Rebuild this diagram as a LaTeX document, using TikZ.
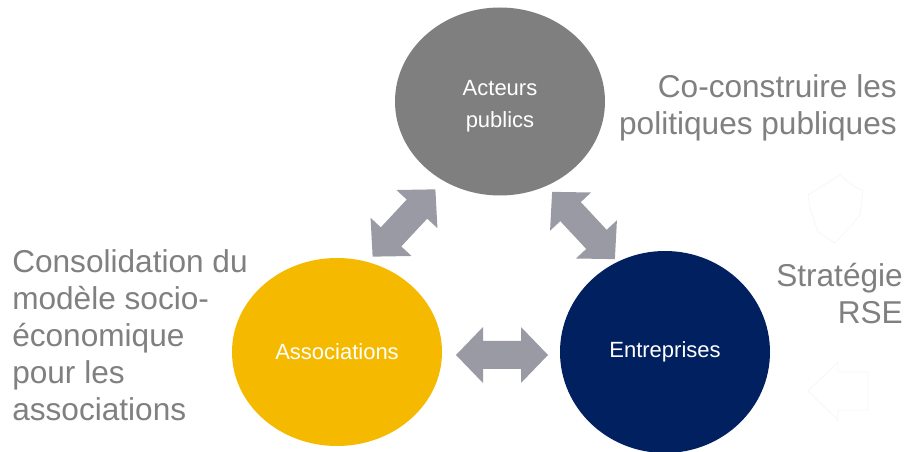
\documentclass[tikz,border=0pt]{standalone}
\usepackage{fontspec}
\setmainfont{Liberation Sans}
\usetikzlibrary{shapes.geometric}
\definecolor{circgray}{HTML}{7F7F7F}
\definecolor{txtgray}{HTML}{808080}
\definecolor{assoc}{HTML}{F5BA00}
\definecolor{entre}{HTML}{002060}
\definecolor{arrgray}{HTML}{9A9AA4}
\definecolor{faint}{HTML}{F7F7F7}
\tikzset{
  blob/.style={ellipse, draw=none, text=white, inner sep=0pt, align=center,
    font=\fontsize{16.5pt}{24pt}\selectfont},
  side/.style={text=txtgray, inner sep=0pt, font=\fontsize{23.7pt}{27.75pt}\selectfont},
  blockarrow/.style={fill=arrgray, draw=none},
  ghost/.style={draw=faint, line width=0.6pt, fill=none}
}
\begin{document}
\begin{tikzpicture}[x=0.75pt, y=-0.75pt]
\useasboundingbox (0,0) rectangle (908,452);
\fill[white] (0,0) rectangle (908,452);

% circles
\node[blob, fill=circgray, minimum width=157.5pt, minimum height=141pt] (acteurs) at (500,101.5) {\rule{0pt}{18pt}Acteurs\\publics};
\node[blob, fill=assoc, minimum width=157.5pt, minimum height=141pt] (assoc) at (337,352) {Associations};
\node[blob, fill=entre, minimum width=157.5pt, minimum height=151.5pt] (entre) at (665,352) {Entreprises};

% block double arrows
\fill[blockarrow, shift={(502,355)}] (-46,0) -- (-19,-28) -- (-19,-14) -- (19,-14) -- (19,-28) -- (46,0) -- (19,28) -- (19,14) -- (-19,14) -- (-19,28) -- cycle;
\fill[blockarrow, shift={(404,223)}, rotate=47] (-46,0) -- (-19,-28) -- (-19,-14) -- (19,-14) -- (19,-28) -- (46,0) -- (19,28) -- (19,14) -- (-19,14) -- (-19,28) -- cycle;
\fill[blockarrow, shift={(583.5,225.5)}, rotate=-47] (-46,0) -- (-19,-28) -- (-19,-14) -- (19,-14) -- (19,-28) -- (46,0) -- (19,28) -- (19,14) -- (-19,14) -- (-19,28) -- cycle;

% side texts (base anchor = baseline of last line)
\node[side, anchor=base west, align=left] (conso) at (12,421) {Consolidation du\\modèle socio-\\économique\\pour les\\associations};
\node[side, anchor=base east, align=right] (coconst) at (897,135) {Co-construire les\\politiques publiques};
\node[side, anchor=base east, align=right] (rse) at (903,324) {Stratégie\\RSE};

% faint ghost shapes
\draw[ghost] (840,175) -- (855,187) -- (863,190) -- (860,215) -- (850,227) -- (835,243) -- (818,232) -- (810,208) -- (808,195) -- (827,183) -- cycle;
\draw[ghost] (808,391) -- (838,362) -- (838,372) -- (868,372) -- (868,410) -- (838,410) -- (838,420) -- cycle;
\end{tikzpicture}
\end{document}
